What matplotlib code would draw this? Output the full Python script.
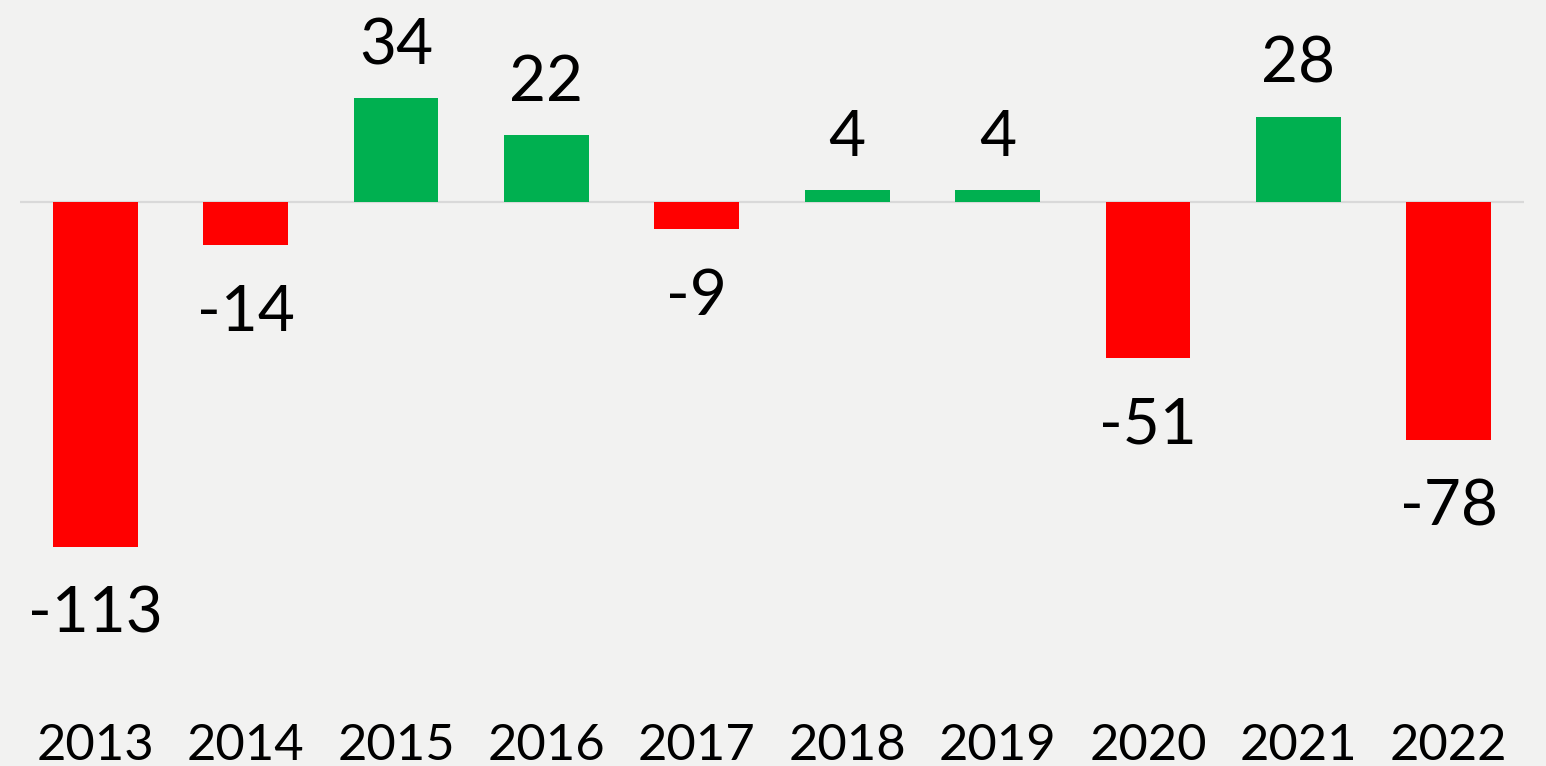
import matplotlib
matplotlib.use("Agg")
import matplotlib.pyplot as plt
from matplotlib.transforms import blended_transform_factory

years = ["2013", "2014", "2015", "2016", "2017", "2018", "2019", "2020", "2021", "2022"]
values = [-113, -14, 34, 22, -9, 4, 4, -51, 28, -78]

POS_COLOR = "#00b050"
NEG_COLOR = "#ff0000"
BG = "#f2f2f1"

plt.rcParams["font.family"] = ["Lato", "DejaVu Sans"]

W, H, DPI = 1546, 766, 100
fig = plt.figure(figsize=(W / DPI, H / DPI), dpi=DPI, facecolor=BG)

# axes placed in pixel terms: x from 20 to 1524, y from 19 to 598.5 (top-down)
ax = fig.add_axes([20 / W, (H - 598.5) / H, 1504 / W, 579.5 / H])
ax.set_facecolor(BG)

x = list(range(len(years)))
colors = [POS_COLOR if v >= 0 else NEG_COLOR for v in values]
ax.bar(x, values, width=0.565, color=colors, zorder=2)
ax.axhline(0, color="#d9d9d9", linewidth=1.6, zorder=1)

ax.set_xlim(-0.5, len(years) - 0.5)
ax.set_ylim(-130, 60)
ax.axis("off")

for xi, v in zip(x, values):
    if v >= 0:
        off = 34 * 0.72
    else:
        off = -86 * 0.72
    ax.annotate(str(v), (xi, v), xytext=(0, off), textcoords="offset points",
                ha="center", va="baseline", fontsize=46, color="black",
                annotation_clip=False)

trans = blended_transform_factory(ax.transData, fig.transFigure)
for xi, label in zip(x, years):
    ax.text(xi, (H - 760) / H, label, transform=trans, ha="center",
            va="baseline", fontsize=36.5, color="black")

fig.savefig("out.png", dpi=DPI, facecolor=BG)
